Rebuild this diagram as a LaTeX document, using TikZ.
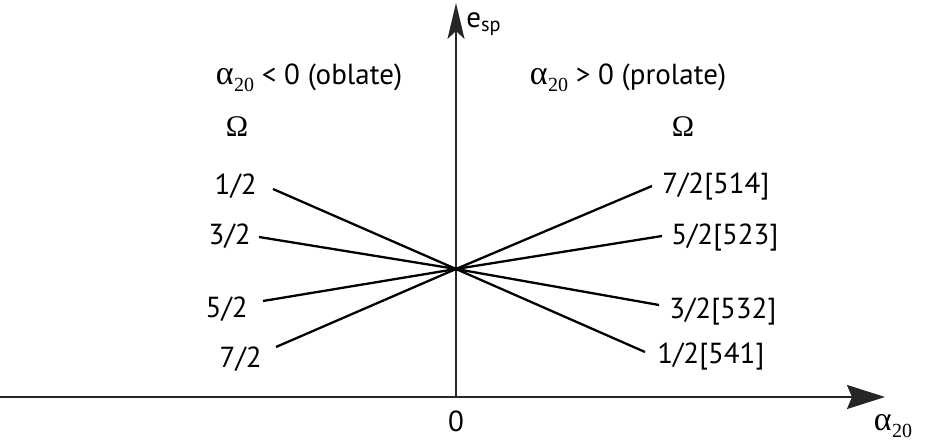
\documentclass[tikz,border=0pt]{standalone}
\usepackage{fontspec}
\setmainfont{PT Sans}
\newfontfamily\symfont{Liberation Serif}
\usetikzlibrary{arrows.meta,positioning}

% deformation symbol, Symbol-font look
\newcommand{\alphatwenty}{{\fontsize{17}{17}\selectfont\symfont α}\kern0.2pt\raisebox{-3.5pt}{\fontsize{10}{10}\selectfont\symfont 20}}
\newcommand{\bigomega}{{\fontsize{15}{15}\selectfont\symfont Ω}}

\begin{document}
\begin{tikzpicture}[
  x=0.5pt, y=-0.5pt,
  font=\fontsize{14.5}{17}\selectfont,
  lbl/.style={inner sep=0pt},
  axis/.style={line width=0.9pt, draw=black!85},
  level/.style={line width=1.15pt},
  xarr/.style={-{Stealth[length=19pt, width=12pt, inset=2.5pt]}},
  yarr/.style={-{Stealth[length=18pt, width=8.5pt, inset=4pt]}},
]
\useasboundingbox (0,0) rectangle (933,442);

% axes
\coordinate (xstart) at (0,397);
\coordinate (xtip)   at (885,397);
\coordinate (ybot)   at (456,397);
\coordinate (ytip)   at (456,3);
\draw[axis, xarr] (xstart) -- (xtip);
\draw[axis, yarr] (ybot) -- (ytip);
\node[lbl]              (zero) at (456,421) {0};
\node[lbl]              (xlab) at (893,426) {\alphatwenty};
\node[lbl, anchor=west] (ylab) at (466,24)  {e\textsubscript{sp}};

% headings
\node[lbl] (obl)  at (309,78) {\alphatwenty{} < 0 (oblate)};
\node[lbl] (pro)  at (628,78) {\alphatwenty{} > 0 (prolate)};
\node[lbl] (omL)  at (237,127) {\bigomega};
\node[lbl] (omR)  at (683,127) {\bigomega};

% crossing point of the levels
\coordinate (cross) at (456,269);

% oblate side
\coordinate (a1) at (273,189);
\coordinate (a2) at (259,237);
\coordinate (a3) at (263,301);
\coordinate (a4) at (276,347);
\node[lbl, anchor=east] (n1) at (257,186) {1/2};
\node[lbl, anchor=east] (n2) at (251,236) {3/2};
\node[lbl, anchor=east] (n3) at (248,309) {5/2};
\node[lbl, anchor=east] (n4) at (262,359) {7/2};

% prolate side
\coordinate (b1) at (652,186);
\coordinate (b2) at (662,236);
\coordinate (b3) at (659,305);
\coordinate (b4) at (645,352);
\node[lbl, anchor=west] (m1) at (662,187) {7/2[514]};
\node[lbl, anchor=west] (m2) at (671,238) {5/2[523]};
\node[lbl, anchor=west] (m3) at (669,312) {3/2[532]};
\node[lbl, anchor=west] (m4) at (657,357) {1/2[541]};

\foreach \p in {a1,a2,a3,a4,b1,b2,b3,b4}
  \draw[level] (cross) -- (\p);

\end{tikzpicture}
\end{document}
